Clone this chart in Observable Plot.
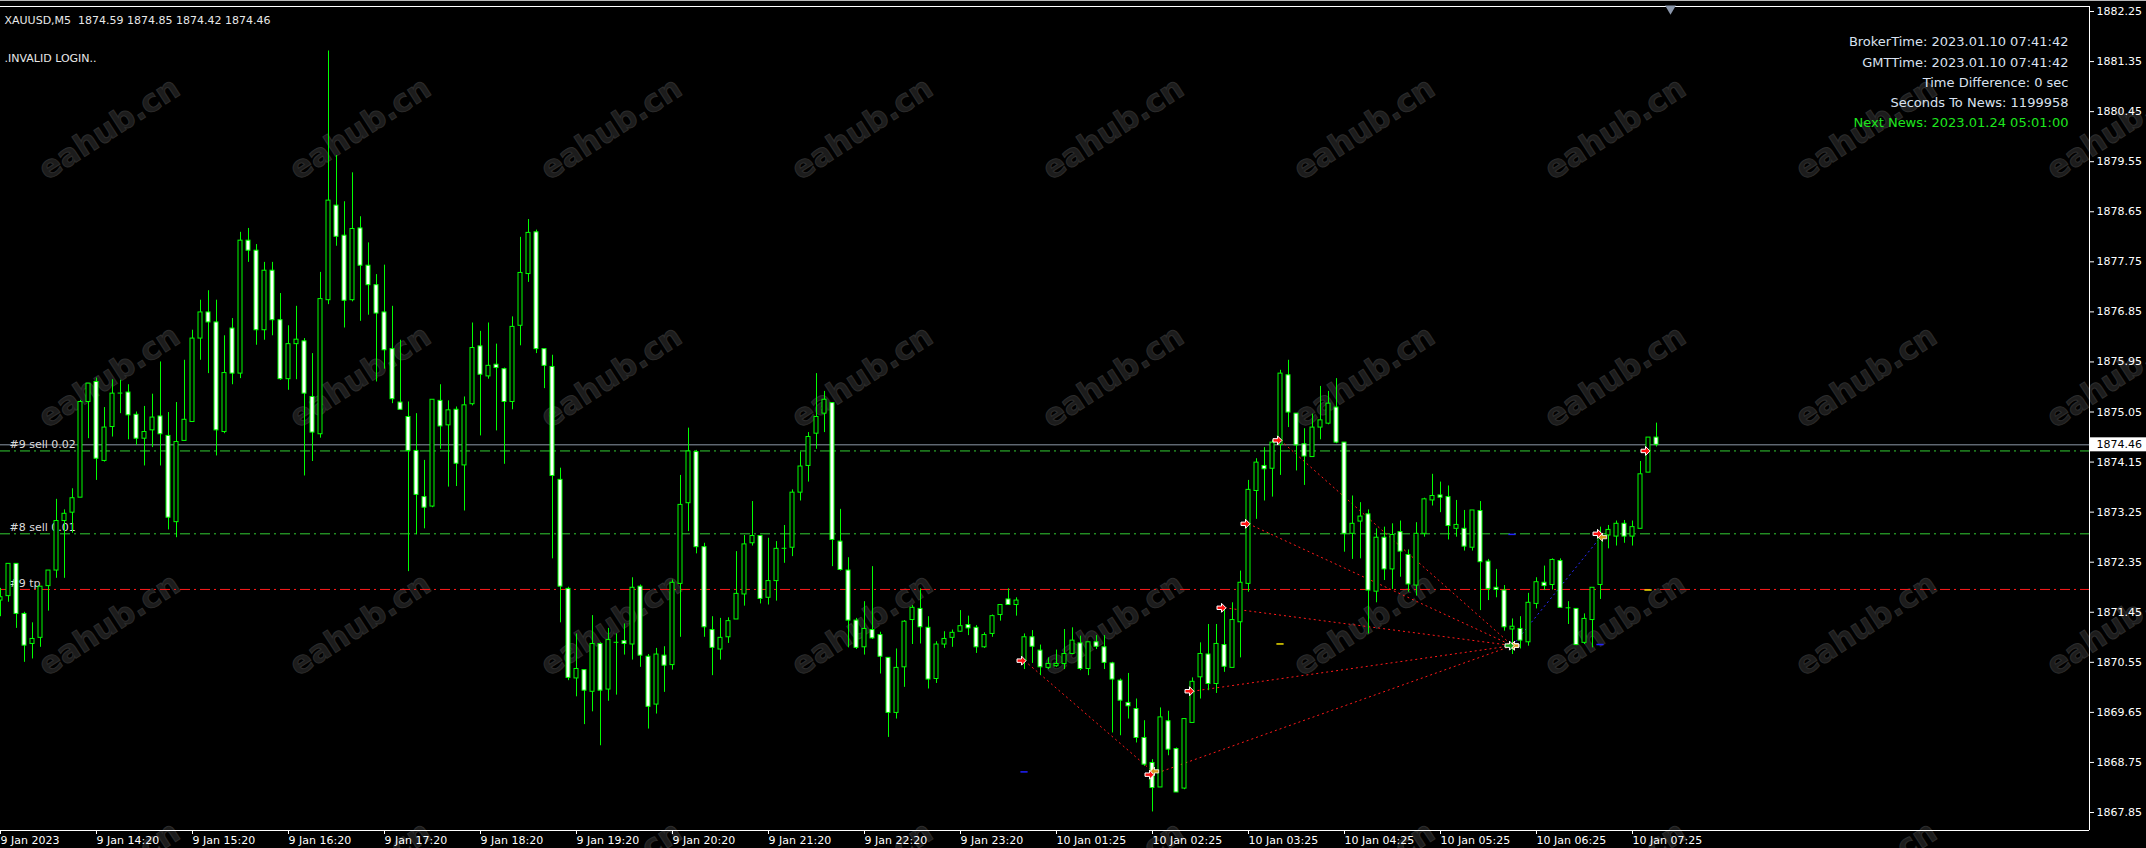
<!DOCTYPE html>
<html><head><meta charset="utf-8">
<script src="https://cdn.jsdelivr.net/npm/d3@7"></script>
<script src="https://cdn.jsdelivr.net/npm/@observablehq/plot@0.6"></script>
<style>html,body{margin:0;padding:0;background:#000;overflow:hidden}</style>
</head><body><div id="chart"></div>
<script>
// ---------- DATA (XAUUSD M5, bar index 0 = 9 Jan 13:20) ----------
const opens = [
1871.66,1871.74,1872.32,1871.42,1870.88,1870.99,1871.92,1872.20,1873.09,1873.24,
1873.51,1875.23,1875.59,1874.17,1874.78,1875.39,1875.40,1875.00,1874.57,1874.72,
1874.97,1874.62,1873.07,1874.53,1874.87,1876.37,1876.84,1876.66,1874.69,1876.55,
1875.74,1878.13,1877.95,1876.52,1877.59,1876.70,1875.64,1876.27,1876.32,1875.32,
1874.65,1877.06,1878.76,1878.22,1877.06,1878.35,1877.68,1877.33,1876.84,1876.18,
1875.22,1874.96,1874.35,1873.52,1873.35,1875.25,1874.81,1875.09,1874.09,1875.19,
1876.23,1875.69,1875.90,1875.82,1875.23,1876.60,1877.53,1878.28,1876.18,1875.86,
1873.83,1871.87,1870.26,1870.41,1870.02,1870.88,1870.06,1870.91,1870.93,1870.87,
1871.91,1870.65,1869.79,1870.67,1870.50,1871.96,1873.41,1874.33,1872.62,1871.13,
1870.78,1871.00,1871.32,1871.77,1872.69,1872.82,1871.71,1872.01,1872.60,1872.61,
1873.60,1874.08,1874.66,1875.02,1875.21,1872.72,1872.20,1871.30,1870.82,1871.13,
1871.04,1870.63,1869.64,1870.46,1871.31,1871.51,1871.17,1870.25,1870.87,1870.99,
1871.10,1871.22,1871.17,1870.82,1871.06,1871.40,1871.68,1871.58,1870.58,1871.00,
1870.76,1870.45,1870.48,1870.52,1870.70,1870.89,1870.43,1870.91,1870.82,1870.53,
1870.22,1869.82,1869.71,1869.19,1868.74,1868.30,1869.49,1868.99,1868.28,1869.46,
1870.28,1870.69,1870.16,1870.86,1870.45,1871.27,1871.96,1873.63,1874.08,1874.03,
1874.46,1875.71,1875.02,1874.47,1874.24,1874.77,1874.84,1875.13,1874.50,1872.86,
1873.08,1873.21,1871.82,1872.79,1872.22,1872.89,1872.48,1871.93,1872.86,1873.46,
1873.55,1873.52,1872.95,1872.95,1872.61,1873.27,1872.36,1871.89,1871.84,1871.14,
1871.15,1870.91,1871.60,1871.98,1871.94,1872.37,1871.53,1871.51,1870.90,1871.31,
1871.94,1872.83,1872.81,1873.04,1872.81,1872.95,1873.96,1874.59];
const highs = [
1871.88,1872.32,1872.32,1871.45,1871.26,1871.91,1872.20,1873.48,1873.29,1873.67,
1875.26,1875.56,1875.66,1875.13,1875.63,1875.62,1875.54,1875.05,1875.15,1875.37,
1875.95,1875.04,1875.22,1875.98,1876.52,1877.06,1877.23,1877.06,1876.42,1876.73,
1878.28,1878.35,1878.06,1877.74,1877.74,1877.18,1876.60,1876.95,1876.37,1876.10,
1877.56,1881.54,1879.66,1878.83,1879.35,1878.56,1878.09,1877.52,1877.69,1876.95,
1876.34,1875.23,1875.02,1874.18,1875.27,1875.54,1875.25,1875.14,1875.32,1876.65,
1876.50,1876.65,1876.27,1875.84,1876.76,1878.19,1878.51,1878.32,1876.18,1876.07,
1874.04,1871.90,1871.06,1870.41,1871.39,1870.90,1871.16,1871.06,1871.24,1872.07,
1871.94,1870.69,1870.80,1870.83,1872.03,1873.91,1874.76,1874.36,1872.69,1871.37,
1871.34,1871.35,1872.54,1872.83,1873.44,1872.82,1872.78,1872.72,1873.01,1873.65,
1874.33,1874.68,1875.74,1875.42,1875.22,1873.30,1872.43,1871.34,1871.64,1872.27,
1871.09,1870.63,1870.79,1871.30,1871.57,1871.87,1871.37,1870.92,1871.10,1871.13,
1871.48,1871.38,1871.21,1871.08,1871.40,1871.58,1871.87,1871.71,1871.06,1871.12,
1870.86,1870.63,1870.77,1871.14,1871.17,1871.02,1870.91,1871.03,1871.03,1870.55,
1870.25,1870.35,1869.89,1869.50,1868.80,1869.73,1869.67,1869.01,1869.53,1870.27,
1870.90,1871.23,1871.23,1871.54,1871.62,1872.19,1873.82,1874.21,1874.41,1874.54,
1875.80,1875.98,1875.02,1874.75,1875.01,1875.51,1875.42,1875.65,1874.50,1873.54,
1873.42,1873.29,1872.95,1872.98,1873.04,1873.09,1872.57,1873.06,1873.50,1873.93,
1873.79,1873.72,1873.46,1873.28,1873.28,1873.44,1872.40,1872.22,1871.93,1871.33,
1871.37,1871.79,1872.07,1872.28,1872.41,1872.41,1871.64,1871.51,1871.42,1871.89,
1872.98,1873.01,1873.09,1873.10,1873.09,1874.16,1874.59,1874.85];
const lows = [
1871.37,1871.63,1871.16,1870.55,1870.61,1870.82,1871.47,1872.06,1872.06,1872.87,
1873.51,1874.57,1873.82,1874.15,1874.60,1875.02,1874.55,1874.45,1874.08,1874.41,
1874.08,1872.93,1872.79,1874.53,1874.87,1875.98,1875.74,1874.26,1874.66,1875.54,
1875.65,1877.74,1876.25,1876.34,1876.42,1875.62,1875.44,1875.63,1873.90,1874.16,
1874.58,1876.98,1878.03,1876.56,1877.03,1876.68,1876.79,1875.59,1875.82,1875.20,
1875.08,1872.18,1872.84,1872.95,1873.33,1874.38,1873.70,1873.71,1873.27,1875.16,
1874.62,1875.64,1874.71,1874.11,1875.09,1876.24,1877.38,1876.10,1875.47,1872.41,
1871.26,1870.22,1869.93,1869.43,1869.66,1869.05,1869.85,1869.96,1870.68,1870.59,
1870.46,1869.35,1869.62,1870.01,1870.41,1871.00,1872.90,1872.50,1871.00,1870.31,
1870.59,1870.89,1871.32,1871.56,1872.64,1871.60,1871.58,1871.65,1872.33,1872.45,
1873.45,1873.79,1874.38,1874.68,1872.27,1872.19,1870.81,1870.78,1870.68,1870.96,
1870.34,1869.20,1869.53,1870.10,1870.87,1870.88,1870.07,1870.17,1870.80,1870.82,
1871.09,1871.03,1870.71,1870.80,1871.00,1871.29,1871.58,1871.38,1870.42,1870.53,
1870.31,1870.42,1870.46,1870.42,1870.69,1870.40,1870.31,1870.78,1870.42,1869.28,
1869.23,1869.53,1869.10,1868.68,1867.86,1868.30,1868.87,1868.21,1868.26,1869.46,
1869.89,1870.04,1869.99,1870.37,1870.45,1870.63,1871.81,1873.12,1873.45,1873.52,
1873.91,1874.77,1873.99,1873.73,1874.24,1874.55,1874.82,1874.48,1872.53,1872.40,
1872.41,1871.06,1871.62,1872.02,1871.86,1872.08,1871.81,1871.74,1872.80,1873.36,
1873.24,1872.75,1872.80,1872.55,1872.55,1871.48,1871.66,1871.71,1871.11,1870.69,
1870.79,1870.84,1871.51,1871.84,1871.85,1871.53,1871.23,1870.85,1870.87,1870.81,
1871.68,1872.59,1872.64,1872.69,1872.64,1872.95,1873.96,1874.42];
const closes = [
1871.72,1872.32,1871.42,1870.85,1870.97,1871.91,1872.20,1873.09,1873.22,1873.50,
1875.23,1875.56,1874.21,1874.77,1875.38,1875.39,1874.99,1874.57,1874.69,1874.95,
1874.65,1873.15,1874.51,1874.91,1876.37,1876.84,1876.66,1874.72,1875.75,1875.74,
1878.13,1877.95,1876.52,1877.59,1876.70,1875.64,1876.27,1876.35,1875.38,1874.68,
1877.08,1878.85,1878.20,1877.05,1878.34,1877.68,1877.33,1876.82,1876.16,1875.28,
1875.09,1874.35,1873.56,1873.33,1875.27,1874.79,1875.08,1874.12,1875.17,1876.20,
1875.72,1875.88,1875.84,1875.23,1876.58,1877.55,1878.27,1876.18,1875.88,1873.90,
1871.91,1870.27,1870.43,1870.04,1870.88,1870.04,1870.95,1870.91,1870.88,1871.89,
1870.67,1869.75,1870.69,1870.49,1871.98,1873.38,1874.34,1872.62,1871.18,1870.81,
1870.99,1871.29,1871.78,1872.67,1872.82,1871.69,1872.01,1872.59,1872.60,1873.60,
1874.07,1874.60,1874.96,1875.27,1872.75,1872.21,1871.30,1870.81,1871.15,1870.98,
1870.65,1869.64,1870.45,1871.28,1871.53,1871.18,1870.24,1870.87,1870.97,1871.08,
1871.20,1871.16,1870.82,1871.04,1871.38,1871.58,1871.58,1871.66,1871.00,1870.83,
1870.46,1870.52,1870.52,1870.70,1870.94,1870.43,1870.91,1870.83,1870.54,1870.24,
1869.86,1869.76,1869.19,1868.71,1868.29,1869.56,1868.98,1868.21,1869.53,1870.20,
1870.70,1870.16,1870.88,1870.47,1871.31,1871.98,1873.65,1874.14,1874.02,1874.50,
1875.74,1875.04,1874.45,1874.25,1874.77,1874.90,1875.20,1874.50,1872.86,1873.04,
1873.17,1871.84,1872.79,1872.22,1872.84,1872.54,1871.95,1872.86,1873.48,1873.54,
1873.51,1873.00,1873.02,1872.63,1873.28,1872.35,1871.87,1871.85,1871.18,1871.19,
1870.94,1871.62,1871.99,1871.92,1872.39,1871.53,1871.53,1870.86,1871.33,1871.89,
1872.84,1872.93,1873.04,1872.81,1872.98,1873.93,1874.59,1874.46];

const xTickBars = [0,12,24,36,48,60,72,84,96,108,120,132,144,156,168,180,192,204];
const xTickLabels = ["9 Jan 2023","9 Jan 14:20","9 Jan 15:20","9 Jan 16:20","9 Jan 17:20","9 Jan 18:20",
  "9 Jan 19:20","9 Jan 20:20","9 Jan 21:20","9 Jan 22:20","9 Jan 23:20","10 Jan 01:25","10 Jan 02:25",
  "10 Jan 03:25","10 Jan 04:25","10 Jan 05:25","10 Jan 06:25","10 Jan 07:25"];
const yTickValues = [1882.25,1881.35,1880.45,1879.55,1878.65,1877.75,1876.85,1875.95,1875.05,
  1874.15,1873.25,1872.35,1871.45,1870.55,1869.65,1868.75,1867.85];

const bidPrice = 1874.46;
const headerText = "XAUUSD,M5  1874.59 1874.85 1874.42 1874.46";
const statusText = ".INVALID LOGIN..";
const infoLines = ["BrokerTime: 2023.01.10 07:41:42","GMTTime: 2023.01.10 07:41:42",
  "Time Difference: 0 sec","Seconds To News: 1199958"];
const newsLine = "Next News: 2023.01.24 05:01:00";

const orderLabels = ["#9 sell 0.02","#8 sell 0.01","#9 tp"];
const orderPrices = [1874.35,1872.86,1871.86];

// closed / open trades (bar index, price)
const sellOpenBars   = [128,144,149,153,156,160,200,206];
const sellOpenPrices = [1870.58,1868.53,1870.03,1871.53,1873.04,1874.54,1872.86,1874.35];
const sellCloseBars  = [144,189,189,189,189,189];
const sellClosePrices= [1868.59,1870.85,1870.85,1870.85,1870.85,1870.85];
const buyOpenBars = [189], buyOpenPrices = [1870.85];
const buyCloseBars = [200], buyClosePrices = [1872.80];
const blueMarkBars = [128,189,200], blueMarkPrices = [1868.58,1872.85,1870.87];
const yellowMarkBars = [160,206], yellowMarkPrices = [1870.88,1871.85];
const chartShiftBar = 208.75;
const watermark = "eahub.cn";

// ---------- BUILD ----------
const candles = opens.map((o, i) => ({i, o, h: highs[i], l: lows[i], c: closes[i]}));
const bodies = candles.filter(d => Math.abs(d.c - d.o) >= 0.02);
const dojis = candles.filter(d => Math.abs(d.c - d.o) < 0.02);
const sellTrades = sellCloseBars.map((b, j) => ({x1: sellOpenBars[j], y1: sellOpenPrices[j], x2: b, y2: sellClosePrices[j]}));
const buyTrades = buyCloseBars.map((b, j) => ({x1: buyOpenBars[j], y1: buyOpenPrices[j], x2: b, y2: buyClosePrices[j]}));
const sellOpens = sellOpenBars.map((b, j) => ({k: b, p: sellOpenPrices[j]}));
const closesPts = sellCloseBars.map((b, j) => ({k: b, p: sellClosePrices[j]}))
  .concat(buyCloseBars.map((b, j) => ({k: b, p: buyClosePrices[j]})));
const buyOpens = buyOpenBars.map((b, j) => ({k: b, p: buyOpenPrices[j]}));
const blueMarks = blueMarkBars.map((b, j) => ({k: b, p: blueMarkPrices[j]}));
const yellowMarks = yellowMarkBars.map((b, j) => ({k: b, p: yellowMarkPrices[j]}));
const orders = orderLabels.map((t, j) => ({t, p: orderPrices[j]}));
const tickLabel = new Map(xTickBars.map((b, j) => [b, xTickLabels[j]]));

const W = 2146, H = 848, mR = 57, mT = 6, mB = 18;
const pxPerBar = 8;
const xMax = (W - mR) / pxPerBar;
const pxPerUnit = 55.625;
const yTop = 1882.25 + 5 / pxPerUnit;
const yBot = yTop - (H - mT - mB) / pxPerUnit;

const GREEN = "#00ff00";
const arrowRight = {draw(ctx, size) { const r = Math.sqrt(size / Math.PI);
  ctx.moveTo(-r, -0.38 * r); ctx.lineTo(0, -0.38 * r); ctx.lineTo(0, -r); ctx.lineTo(r, 0);
  ctx.lineTo(0, r); ctx.lineTo(0, 0.38 * r); ctx.lineTo(-r, 0.38 * r); ctx.closePath(); }};
const arrowLeft = {draw(ctx, size) { const r = Math.sqrt(size / Math.PI);
  ctx.moveTo(r, -0.38 * r); ctx.lineTo(0, -0.38 * r); ctx.lineTo(0, -r); ctx.lineTo(-r, 0);
  ctx.lineTo(0, r); ctx.lineTo(0, 0.38 * r); ctx.lineTo(r, 0.38 * r); ctx.closePath(); }};

const FONT = "DejaVu Sans";
const chart = Plot.plot({
  width: W, height: H,
  marginLeft: 0, marginRight: mR, marginTop: mT, marginBottom: mB,
  style: {background: "#000", color: "#fff", fontFamily: FONT, fontSize: "11px"},
  x: {type: "linear", domain: [0, xMax]},
  y: {type: "linear", domain: [yBot, yTop]},
  color: {type: "identity"},
  marks: [
    // order lines
    Plot.ruleY(orders.slice(0, 2), {y: "p", stroke: "#32cd32", strokeDasharray: "10,4,2,4"}),
    Plot.ruleY(orders.slice(2), {y: "p", stroke: "#ff1a1a", strokeDasharray: "10,4,2,4"}),
    Plot.ruleY([bidPrice], {stroke: "#8d98a6"}),
    Plot.text(orders, {y: "p", frameAnchor: "left", dx: 9, dy: -6, text: "t", textAnchor: "start",
      fill: "#dcdcdc", fontSize: 11}),
    // trade history lines
    Plot.link(sellTrades, {x1: "x1", y1: "y1", x2: "x2", y2: "y2", stroke: "#ff1a1a", strokeDasharray: "2,3"}),
    Plot.link(buyTrades, {x1: "x1", y1: "y1", x2: "x2", y2: "y2", stroke: "#2a2aff", strokeDasharray: "2,3"}),
    // candles
    Plot.ruleX(candles, {x: "i", y1: "l", y2: "h", stroke: GREEN}),
    Plot.rect(bodies, {x1: d => d.i - 0.25, x2: d => d.i + 0.25, y1: "o", y2: "c",
      fill: d => d.c > d.o ? "#000" : "#fff", stroke: GREEN, strokeWidth: 1}),
    Plot.ruleY(dojis, {x1: d => d.i - 0.3, x2: d => d.i + 0.3, y: "c", stroke: GREEN}),
    // small level marks
    Plot.ruleY(blueMarks, {y: "p", x1: d => d.k - 0.45, x2: d => d.k + 0.45, stroke: "#2020ff", strokeWidth: 1.5}),
    Plot.ruleY(yellowMarks, {y: "p", x1: d => d.k - 0.45, x2: d => d.k + 0.45, stroke: "#f0e000", strokeWidth: 1.5}),
    // trade arrows
    Plot.dot(closesPts, {x: "k", y: "p", symbol: arrowLeft, r: 4.2, dx: 2, fill: "#d99a1c", stroke: "#fff", strokeWidth: 0.8}),
    Plot.dot(buyOpens, {x: "k", y: "p", symbol: arrowRight, r: 4.5, dx: -3, fill: "#10a010", stroke: "#fff", strokeWidth: 1}),
    Plot.dot(sellOpens, {x: "k", y: "p", symbol: arrowRight, r: 4.5, dx: -3, fill: "#ff1010", stroke: "#fff", strokeWidth: 1}),
    // frame
    Plot.ruleX([xMax], {stroke: "#fff"}),
    Plot.ruleY([yBot, yTop], {stroke: "#fff"}),
    // axes
    Plot.axisY({anchor: "right", ticks: yTickValues, tickFormat: d => d.toFixed(2), tickSize: 4,
      tickPadding: 3, fontSize: 11, label: null}),
    Plot.axisX({ticks: xTickBars, tickFormat: d => tickLabel.get(d), tickSize: 4, tickPadding: 2,
      textAnchor: "start", fontSize: 11, label: null}),
    // current price box
    Plot.rect([bidPrice], {x1: xMax, x2: W / pxPerBar, y1: d => d - 7 / pxPerUnit, y2: d => d + 7 / pxPerUnit, fill: "#fff"}),
    Plot.text([bidPrice], {x: xMax, y: d => d, dx: 7, text: d => d.toFixed(2), textAnchor: "start", fill: "#000", fontSize: 11}),
    // header texts
    Plot.text([headerText], {frameAnchor: "top-left", dx: 4, dy: 10, textAnchor: "start", fill: "#e8e8e8", fontSize: 11}),
    Plot.text([statusText], {frameAnchor: "top-left", dx: 4, dy: 48, textAnchor: "start", fill: "#e8e8e8", fontSize: 11}),
    ...infoLines.map((t, j) => Plot.text([t], {frameAnchor: "top-right", dx: -21, dy: 30.7 + 20.1 * j,
      textAnchor: "end", fill: "#d9e1ef", fontSize: 13})),
    Plot.text([newsLine], {frameAnchor: "top-right", dx: -21, dy: 30.7 + 20.1 * 4, textAnchor: "end", fill: "#1ee61e", fontSize: 13}),
    Plot.dot([chartShiftBar], {x: d => d, frameAnchor: "top", dy: 2, symbol: "triangle", rotate: 180, r: 4, fill: "#8a96aa"})
  ]
});

// watermark tiles (behind everything)
const svg = d3.select(chart);
const wm = svg.insert("g", "g").attr("aria-label", "watermark");
const colStep = 251, rowStep = 248;
for (let cx = 110; cx < W + 60; cx += colStep) {
  for (let cy = 130; cy < H + 60; cy += rowStep) {
    wm.append("text")
      .attr("transform", `translate(${cx},${cy}) rotate(-33)`)
      .attr("text-anchor", "middle").attr("dominant-baseline", "middle")
      .attr("font-family", FONT).attr("font-weight", "bold").attr("font-size", 31)
      .attr("fill", "#1c1c1c").attr("stroke", "#2c2c2c").attr("stroke-width", 1)
      .text(watermark);
  }
}
wm.append("line").attr("x1", 0).attr("x2", W).attr("y1", 0.5).attr("y2", 0.5).attr("stroke", "#b8b8b8");
document.getElementById("chart").appendChild(chart);
</script>
</body></html>
